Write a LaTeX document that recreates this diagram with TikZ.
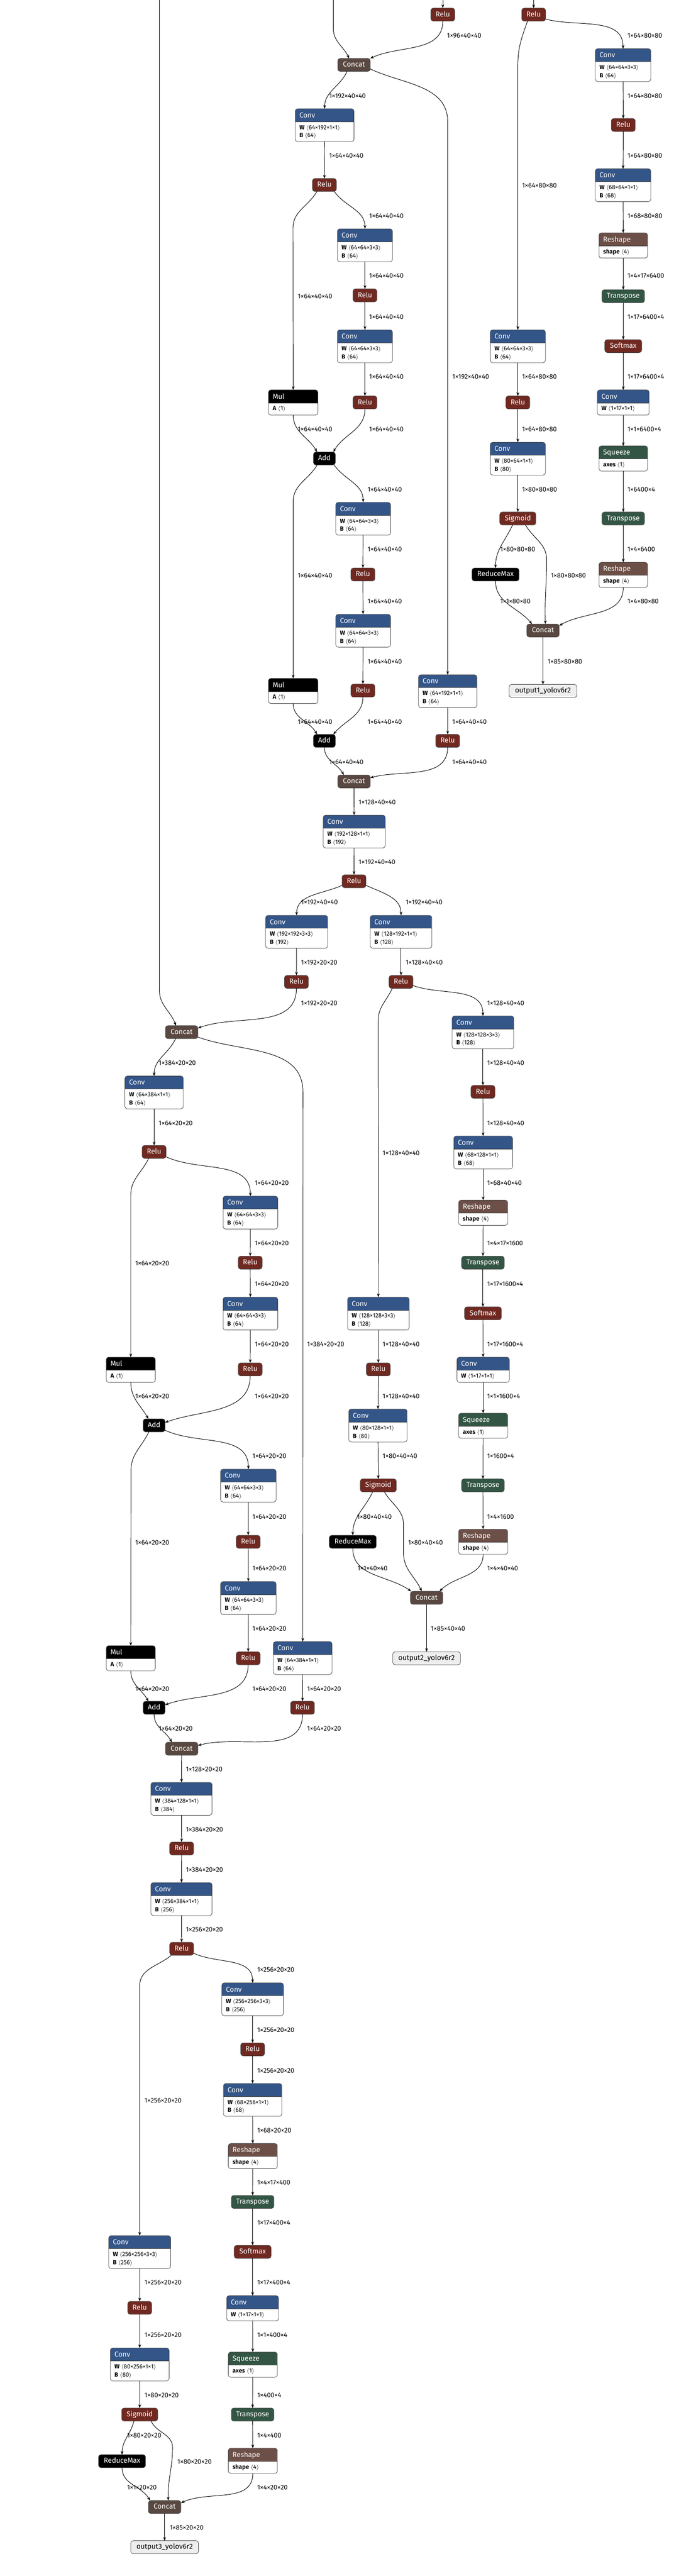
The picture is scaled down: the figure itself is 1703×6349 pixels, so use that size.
\documentclass[tikz,border=0pt]{standalone}
\usepackage{fontspec}
\setmainfont{Fira Sans}
\usetikzlibrary{calc,arrows.meta}
\definecolor{convc}{RGB}{51,85,136}
\definecolor{actc}{RGB}{112,41,33}
\definecolor{catc}{RGB}{89,72,65}
\definecolor{shpc}{RGB}{108,79,71}
\definecolor{trc}{RGB}{51,85,68}
\definecolor{bordc}{RGB}{70,70,70}
\definecolor{outc}{RGB}{238,238,238}
\newcounter{labn}
\newcommand\lan{\ensuremath{\langle}}
\newcommand\ran{\ensuremath{\rangle}}
\tikzset{
 cn/.style={line width=0.6pt, draw=black, -{Stealth[length=4.5pt,width=3.4pt]}},
 lab/.style={anchor=west, inner sep=0pt, font=\fontsize{8.2}{9}\selectfont},
 op/.style={draw=bordc, line width=0.5pt, rounded corners=3pt, minimum height=16pt, inner sep=0pt, outer sep=0pt, text=white, font=\fontsize{8.8}{10}\selectfont, text height=6.4pt, text depth=1.6pt},
 relu/.style={op, fill=actc, minimum width=29.5pt},
 sigm/.style={op, fill=actc, minimum width=44.5pt},
 smax/.style={op, fill=actc, minimum width=45.5pt},
 cat/.style={op, fill=catc, minimum width=40pt},
 addop/.style={op, fill=black, minimum width=27pt},
 rmax/.style={op, fill=black, minimum width=58pt},
 trans/.style={op, fill=trc, minimum width=52.5pt},
 outn/.style={op, fill=outc, text=black, minimum width=83.5pt},
 abox/.style={inner sep=0pt, outer sep=0pt, fill=white},
 bord/.style={draw=bordc, line width=0.5pt, rounded corners=3pt},
 ttl/.style={anchor=base west, inner sep=0pt, text=white, font=\fontsize{8.8}{10}\selectfont},
 bdy/.style={anchor=base west, inner sep=0pt, font=\fontsize{7.4}{9}\selectfont},
}
\newcommand\lb[3]{\stepcounter{labn}\node[lab] (lab\arabic{labn}) at (#1,-#2) {#3};}
\newcommand\abody[6]{%
 \node[abox, minimum width={(#4-#2)*0.5pt}, minimum height={(#5-#3)*0.5pt}] (#1) at ({(#2+#4)/2},{-(#3+#5)/2}) {};
 \begin{scope}
  \clip[rounded corners=3pt] (#1.north west) rectangle (#1.south east);
  \fill[#6] (#1.north west) rectangle ([yshift=-16pt]#1.north east);
 \end{scope}
 \draw[bord] (#1.north west) rectangle (#1.south east);
 \draw[draw=bordc, line width=0.5pt] ([yshift=-16pt]#1.north west) -- ([yshift=-16pt]#1.north east);
}
\newcommand\convII[6]{%
 \abody{#1}{#2}{#3}{#4}{#3+81}{convc}
 \node[ttl] (#1t) at ($(#1.north west)+(10,-22)$) {Conv};
 \node[bdy] (#1a) at ($(#1.north west)+(10,-51)$) {\textbf{W}\ \lan#5\ran};
 \node[bdy] (#1b) at ($(#1.north west)+(10,-71)$) {\textbf{B}\ \lan#6\ran};
}
\newcommand\attI[8]{%
 \abody{#1}{#2}{#3}{#4}{#3+62}{#5}
 \node[ttl] (#1t) at ($(#1.north west)+(10,-22)$) {#6};
 \node[bdy] (#1a) at ($(#1.north west)+(10,-51)$) {\textbf{#7}\ \lan#8\ran};
}
\begin{document}
\begin{tikzpicture}[x=0.5pt,y=0.5pt]
\fill[white] (0,0) rectangle (1703,-6349);
\useasboundingbox (0,0) rectangle (1703,-6349);
% entry coordinates
\coordinate (tA) at (1092,0);
\coordinate (tB) at (1316,0);
\coordinate (tL) at (393,0);
\coordinate (tM) at (822,0);
% ---------- simple nodes
\node[relu] (reluA) at (1092,-36) {Relu};
\node[relu] (reluB) at (1316,-36) {Relu};
\node[cat] (concat1) at (873,-160) {Concat};
\node[relu] (relu1) at (800,-456) {Relu};
\node[relu] (relu2) at (900,-728) {Relu};
\node[relu] (relu3) at (900,-992) {Relu};
\node[addop] (add1) at (800,-1130) {Add};
\node[relu] (relu4) at (895,-1416) {Relu};
\node[relu] (relu5) at (895,-1702) {Relu};
\node[addop] (add2) at (800,-1826) {Add};
\node[relu] (relu6) at (1104,-1826) {Relu};
\node[cat] (concat2) at (873,-1926) {Concat};
\node[relu] (relu7) at (873,-2172) {Relu};
\node[relu] (relu8) at (731,-2420) {Relu};
\node[relu] (relu9) at (989,-2420) {Relu};
\node[cat] (concat4) at (448,-2544) {Concat};
\node[relu] (relu10) at (380,-2839) {Relu};
\node[relu] (relu11) at (617,-3112) {Relu};
\node[relu] (relu12) at (617,-3375) {Relu};
\node[addop] (add3) at (380,-3513) {Add};
\node[relu] (relu13) at (612,-3800) {Relu};
\node[relu] (relu14) at (612,-4087) {Relu};
\node[addop] (add4) at (380,-4209) {Add};
\node[relu] (relu15) at (746,-4209) {Relu};
\node[cat] (concat6) at (448,-4310) {Concat};
\node[relu] (relu16) at (448,-4556) {Relu};
\node[relu] (relu17) at (448,-4803) {Relu};
\node[relu] (relu18) at (623,-5051) {Relu};
\node[trans] (trans5) at (623,-5427) {Transpose};
\node[smax] (softmax3) at (623,-5550) {Softmax};
\node[trans] (trans6) at (623,-5951) {Transpose};
\node[relu] (relu19) at (344.5,-5688) {Relu};
\node[sigm] (sigmoid3) at (344.5,-5951) {Sigmoid};
\node[rmax] (reducemax3) at (301,-6066) {ReduceMax};
\node[cat] (concat7) at (406,-6179) {Concat};
\node[outn] (output3) at (406,-6278) {output3\_yolov6r2};
\node[relu] (relu20) at (1191,-2691) {Relu};
\node[trans] (trans3) at (1191,-3112) {Transpose};
\node[smax] (softmax2) at (1191,-3237) {Softmax};
\node[trans] (trans4) at (1191,-3661) {Transpose};
\node[relu] (relu21) at (933,-3375) {Relu};
\node[sigm] (sigmoid2) at (933,-3661) {Sigmoid};
\node[rmax] (reducemax2) at (870,-3800) {ReduceMax};
\node[cat] (concat5) at (1052,-3938) {Concat};
\node[outn] (output2) at (1052,-4087) {output2\_yolov6r2};
\node[relu] (reluR1) at (1537,-308) {Relu};
\node[trans] (trans1) at (1537,-730) {Transpose};
\node[smax] (softmax1) at (1537,-853) {Softmax};
\node[trans] (trans2) at (1537,-1278) {Transpose};
\node[relu] (reluM1) at (1277,-992) {Relu};
\node[sigm] (sigmoid1) at (1277,-1278) {Sigmoid};
\node[rmax] (reducemax1) at (1222,-1416) {ReduceMax};
\node[cat] (concat3) at (1339,-1554) {Concat};
\node[outn] (output1) at (1339,-1703) {output1\_yolov6r2};
% ---------- attribute nodes
\convII{conv1}{728}{268}{873}{64×192×1×1}{64}
\convII{conv2}{832}{564}{968}{64×64×3×3}{64}
\convII{conv3}{832}{813}{968}{64×64×3×3}{64}
\attI{mul1}{662}{961}{784}{black}{Mul}{A}{1}
\convII{conv4}{828}{1238}{963}{64×64×3×3}{64}
\convII{conv5}{828}{1514}{963}{64×64×3×3}{64}
\attI{mul2}{662}{1672}{784}{black}{Mul}{A}{1}
\convII{conv6}{1032}{1663}{1176}{64×192×1×1}{64}
\convII{conv7}{797}{2009}{950}{192×128×1×1}{192}
\convII{conv8}{655}{2256}{808}{192×192×3×3}{192}
\convII{conv9}{913}{2256}{1065}{128×192×1×1}{128}
\convII{conv10}{308}{2652}{452}{64×384×1×1}{64}
\convII{conv11}{550}{2948}{685}{64×64×3×3}{64}
\convII{conv12}{550}{3197}{685}{64×64×3×3}{64}
\attI{mul3}{262}{3345}{383}{black}{Mul}{A}{1}
\convII{conv13}{544}{3621}{681}{64×64×3×3}{64}
\convII{conv14}{544}{3898}{681}{64×64×3×3}{64}
\attI{mul4}{262}{4056}{383}{black}{Mul}{A}{1}
\convII{conv15}{674}{4046}{819}{64×384×1×1}{64}
\convII{conv16}{372}{4393}{523}{384×128×1×1}{384}
\convII{conv17}{372}{4640}{523}{256×384×1×1}{256}
\convII{conv18}{547}{4887}{699}{256×256×3×3}{256}
\convII{conv19}{551}{5135}{695}{68×256×1×1}{68}
\attI{reshape5}{563}{5283}{684}{shpc}{Reshape}{shape}{4}
\attI{conv20}{559}{5658}{687}{convc}{Conv}{W}{1×17×1×1}
\attI{squeeze3}{563}{5797}{684}{trc}{Squeeze}{axes}{1}
\attI{reshape6}{563}{6034}{684}{shpc}{Reshape}{shape}{4}
\convII{conv21}{268}{5510}{421}{256×256×3×3}{256}
\convII{conv22}{272}{5787}{417}{80×256×1×1}{80}
\convII{conv23}{1115}{2504}{1267}{128×128×3×3}{128}
\convII{conv24}{1119}{2800}{1264}{68×128×1×1}{68}
\attI{reshape3}{1131}{2958}{1252}{shpc}{Reshape}{shape}{4}
\attI{conv25}{1127}{3345}{1256}{convc}{Conv}{W}{1×17×1×1}
\attI{squeeze2}{1131}{3483}{1252}{trc}{Squeeze}{axes}{1}
\attI{reshape4}{1131}{3769}{1252}{shpc}{Reshape}{shape}{4}
\convII{conv26}{857}{3197}{1009}{128×128×3×3}{128}
\convII{conv27}{860}{3473}{1004}{80×128×1×1}{80}
\convII{convR1}{1468}{120}{1605}{64×64×3×3}{64}
\convII{convR2}{1468}{416}{1605}{68×64×1×1}{68}
\attI{reshape1}{1477}{574}{1597}{shpc}{Reshape}{shape}{4}
\attI{convR3}{1473}{961}{1601}{convc}{Conv}{W}{1×17×1×1}
\attI{squeeze1}{1477}{1099}{1597}{trc}{Squeeze}{axes}{1}
\attI{reshape2}{1477}{1386}{1597}{shpc}{Reshape}{shape}{4}
\convII{convM1}{1209}{813}{1345}{64×64×3×3}{64}
\convII{convM2}{1209}{1090}{1345}{80×64×1×1}{80}
% ---------- edges: top / 40x40 section
\draw[cn] (tA) -- (reluA);
\draw[cn] (tB) -- (reluB);
\draw[cn] (tM) -- ++(0,-70) to[out=-90,in=115] ($(concat1.north)+(-12,0)$);
\draw[cn] (reluA.south) to[out=-90,in=25] (concat1.north east);
\draw[cn] ($(concat1.south)+(-17,0)$) to[out=-115,in=90] (conv1.north);
\draw[cn] ($(concat1.east)+(0,-10)$) to[out=-25,in=90] ++(191,-130) -- (conv6.north);
\draw[cn] (conv1) -- (relu1);
\draw[cn] ($(relu1.south east)+(-5,0)$) to[out=-55,in=90] (conv2.north);
\draw[cn] ($(relu1.south west)+(11,0)$) to[out=-120,in=90] ++(-59,-90) -- (mul1.north);
\draw[cn] (conv2) -- (relu2);
\draw[cn] (relu2) -- (conv3);
\draw[cn] (conv3) -- (relu3);
\draw[cn] (mul1.south) to[out=-90,in=120] ($(add1.north)+(-18,0)$);
\draw[cn] (relu3.south) to[out=-90,in=60] ($(add1.north)+(22,0)$);
\draw[cn] ($(add1.south east)+(-3,0)$) to[out=-55,in=90] (conv4.north);
\draw[cn] ($(add1.south west)+(9,0)$) to[out=-120,in=90] ++(-59,-90) -- (mul2.north);
\draw[cn] (conv4) -- (relu4);
\draw[cn] (relu4) -- (conv5);
\draw[cn] (conv5) -- (relu5);
\draw[cn] (mul2.south) to[out=-90,in=120] ($(add2.north)+(-18,0)$);
\draw[cn] (relu5.south) to[out=-90,in=50] ($(add2.north)+(22,0)$);
\draw[cn] (add2.south) to[out=-90,in=120] ($(concat2.north)+(-25,0)$);
\draw[cn] (conv6) -- (relu6);
\draw[cn] (relu6.south) to[out=-90,in=15] ($(concat2.east)+(0,9)$);
\draw[cn] (concat2) -- (conv7);
\draw[cn] (conv7) -- (relu7);
\draw[cn] ($(relu7.west)+(0,-10)$) to[out=-155,in=90] (conv8.north);
\draw[cn] ($(relu7.east)+(0,-10)$) to[out=-25,in=90] (conv9.north);
\draw[cn] (conv8) -- (relu8);
\draw[cn] (conv9) -- (relu9);
\draw[cn] (relu8.south) to[out=-90,in=20] ($(concat4.east)+(0,10)$);
\draw[cn] ($(relu9.east)+(0,-9)$) to[out=-20,in=90] (conv23.north);
\draw[cn] ($(relu9.south west)+(8,0)$) to[out=-115,in=90] ++(-35,-80) -- (conv26.north);
% ---------- 20x20 section
\draw[cn] (tL) -- ++(0,-2440) to[out=-90,in=110] ($(concat4.north)+(-14,0)$);
\draw[cn] ($(concat4.south)+(-15,0)$) to[out=-115,in=90] (conv10.north);
\draw[cn] ($(concat4.east)+(0,-12)$) to[out=-20,in=90] ++(259,-135) -- (conv15.north);
\draw[cn] (conv10) -- (relu10);
\draw[cn] ($(relu10.east)+(0,-12)$) to[out=-25,in=90] (conv11.north);
\draw[cn] ($(relu10.south west)+(16,0)$) to[out=-115,in=90] ++(-44,-90) -- (mul3.north);
\draw[cn] (conv11) -- (relu11);
\draw[cn] (relu11) -- (conv12);
\draw[cn] (conv12) -- (relu12);
\draw[cn] (mul3.south) to[out=-90,in=120] ($(add3.north)+(-14,0)$);
\draw[cn] (relu12.south) to[out=-90,in=20] ($(add3.east)+(0,7)$);
\draw[cn] ($(add3.east)+(0,-12)$) to[out=-25,in=90] (conv13.north);
\draw[cn] ($(add3.south west)+(14,0)$) to[out=-115,in=90] ++(-44,-95) -- (mul4.north);
\draw[cn] (conv13) -- (relu13);
\draw[cn] (relu13) -- (conv14);
\draw[cn] (conv14) -- (relu14);
\draw[cn] (mul4.south) to[out=-90,in=120] ($(add4.north)+(-14,0)$);
\draw[cn] (relu14.south) to[out=-90,in=20] ($(add4.east)+(0,7)$);
\draw[cn] (conv15) -- (relu15);
\draw[cn] (add4.south) to[out=-90,in=120] ($(concat6.north)+(-24,0)$);
\draw[cn] (relu15.south) to[out=-90,in=15] ($(concat6.east)+(0,8)$);
\draw[cn] (concat6) -- (conv16);
\draw[cn] (conv16) -- (relu16);
\draw[cn] (relu16) -- (conv17);
\draw[cn] (conv17) -- (relu17);
\draw[cn] ($(relu17.east)+(0,-11)$) to[out=-25,in=90] (conv18.north);
\draw[cn] ($(relu17.south west)+(4,0)$) to[out=-140,in=90] ++(-78,-75) -- (conv21.north);
\draw[cn] (conv18) -- (relu18);
\draw[cn] (relu18) -- (conv19);
\draw[cn] (conv19) -- (reshape5);
\draw[cn] (reshape5) -- (trans5);
\draw[cn] (trans5) -- (softmax3);
\draw[cn] (softmax3) -- (conv20);
\draw[cn] (conv20) -- (squeeze3);
\draw[cn] (squeeze3) -- (trans6);
\draw[cn] (trans6) -- (reshape6);
\draw[cn] (conv21) -- (relu19);
\draw[cn] (relu19) -- (conv22);
\draw[cn] (conv22) -- (sigmoid3);
\draw[cn] ($(sigmoid3.south)+(-14,0)$) to[out=-105,in=90] (reducemax3.north);
\draw[cn] ($(sigmoid3.south)+(28,0)$) to[out=-65,in=90] ++(53,-65) to[out=-90,in=92] ($(concat7.north)+(9,0)$);
\draw[cn] (reducemax3.south) to[out=-90,in=120] ($(concat7.north west)+(4,0)$);
\draw[cn] (reshape6.south) to[out=-90,in=25] ($(concat7.east)+(0,10)$);
\draw[cn] (concat7) -- (output3);
% ---------- middle head
\draw[cn] (conv23) -- (relu20);
\draw[cn] (relu20) -- (conv24);
\draw[cn] (conv24) -- (reshape3);
\draw[cn] (reshape3) -- (trans3);
\draw[cn] (trans3) -- (softmax2);
\draw[cn] (softmax2) -- (conv25);
\draw[cn] (conv25) -- (squeeze2);
\draw[cn] (squeeze2) -- (trans4);
\draw[cn] (trans4) -- (reshape4);
\draw[cn] (conv26) -- (relu21);
\draw[cn] (relu21) -- (conv27);
\draw[cn] (conv27) -- (sigmoid2);
\draw[cn] ($(sigmoid2.south)+(-14,0)$) to[out=-115,in=90] (reducemax2.north);
\draw[cn] ($(sigmoid2.south)+(15,0)$) to[out=-60,in=90] ++(47,-80) -- ++(0,-70) to[out=-90,in=115] ($(concat5.north)+(-12,0)$);
\draw[cn] (reducemax2.south) to[out=-90,in=145] ($(concat5.north west)+(2,0)$);
\draw[cn] (reshape4.south) to[out=-90,in=45] ($(concat5.north east)+(-8,0)$);
\draw[cn] (concat5) -- (output2);
% ---------- right head
\draw[cn] ($(reluB.east)+(0,-11)$) to[out=-15,in=90] (convR1.north);
\draw[cn] ($(reluB.south)+(-15,0)$) to[out=-110,in=90] ++(-24,-110) -- (convM1.north);
\draw[cn] (convR1) -- (reluR1);
\draw[cn] (reluR1) -- (convR2);
\draw[cn] (convR2) -- (reshape1);
\draw[cn] (reshape1) -- (trans1);
\draw[cn] (trans1) -- (softmax1);
\draw[cn] (softmax1) -- (convR3);
\draw[cn] (convR3) -- (squeeze1);
\draw[cn] (squeeze1) -- (trans2);
\draw[cn] (trans2) -- (reshape2);
\draw[cn] (convM1) -- (reluM1);
\draw[cn] (reluM1) -- (convM2);
\draw[cn] (convM2) -- (sigmoid1);
\draw[cn] ($(sigmoid1.south)+(-13,0)$) to[out=-115,in=90] (reducemax1.north);
\draw[cn] ($(sigmoid1.south)+(19,0)$) to[out=-60,in=90] ++(52,-85) to[out=-90,in=92] ($(concat3.north)+(6,0)$);
\draw[cn] (reducemax1.south) to[out=-90,in=130] ($(concat3.north)+(-27,0)$);
\draw[cn] (reshape2.south) to[out=-90,in=30] ($(concat3.north east)+(0,-4)$);
\draw[cn] (concat3) -- (output1);
% ---------- labels
\lb{1102}{88}{1×96×40×40}
\lb{1547}{88}{1×64×80×80}
\lb{811}{236}{1×192×40×40}
\lb{1547}{236}{1×64×80×80}
\lb{811}{384}{1×64×40×40}
\lb{1547}{384}{1×64×80×80}
\lb{910}{532}{1×64×40×40}
\lb{1547}{532}{1×68×80×80}
\lb{1287}{458}{1×64×80×80}
\lb{910}{680}{1×64×40×40}
\lb{1547}{680}{1×4×17×6400}
\lb{734}{731}{1×64×40×40}
\lb{910}{781}{1×64×40×40}
\lb{1547}{781}{1×17×6400×4}
\lb{910}{929}{1×64×40×40}
\lb{1115}{929}{1×192×40×40}
\lb{1287}{929}{1×64×80×80}
\lb{1547}{929}{1×17×6400×4}
\lb{734}{1058}{1×64×40×40}
\lb{910}{1058}{1×64×40×40}
\lb{1287}{1058}{1×64×80×80}
\lb{1547}{1058}{1×1×6400×4}
\lb{906}{1206}{1×64×40×40}
\lb{1287}{1206}{1×80×80×80}
\lb{1547}{1206}{1×6400×4}
\lb{906}{1354}{1×64×40×40}
\lb{1233}{1354}{1×80×80×80}
\lb{1547}{1354}{1×4×6400}
\lb{734}{1418}{1×64×40×40}
\lb{1358}{1418}{1×80×80×80}
\lb{906}{1482}{1×64×40×40}
\lb{1233}{1482}{1×1×80×80}
\lb{1547}{1482}{1×4×80×80}
\lb{906}{1631}{1×64×40×40}
\lb{1350}{1631}{1×85×80×80}
\lb{734}{1779}{1×64×40×40}
\lb{906}{1779}{1×64×40×40}
\lb{1115}{1779}{1×64×40×40}
\lb{811}{1878}{1×64×40×40}
\lb{1115}{1878}{1×64×40×40}
\lb{884}{1977}{1×128×40×40}
\lb{884}{2125}{1×192×40×40}
\lb{742}{2224}{1×192×40×40}
\lb{1000}{2224}{1×192×40×40}
\lb{742}{2372}{1×192×20×20}
\lb{1000}{2372}{1×128×40×40}
\lb{742}{2472}{1×192×20×20}
\lb{1201}{2472}{1×128×40×40}
\lb{391}{2620}{1×384×20×20}
\lb{1201}{2620}{1×128×40×40}
\lb{391}{2768}{1×64×20×20}
\lb{1201}{2768}{1×128×40×40}
\lb{943}{2842}{1×128×40×40}
\lb{628}{2916}{1×64×20×20}
\lb{1201}{2916}{1×68×40×40}
\lb{628}{3064}{1×64×20×20}
\lb{1201}{3064}{1×4×17×1600}
\lb{333}{3114}{1×64×20×20}
\lb{628}{3165}{1×64×20×20}
\lb{1201}{3165}{1×17×1600×4}
\lb{628}{3313}{1×64×20×20}
\lb{757}{3313}{1×384×20×20}
\lb{943}{3313}{1×128×40×40}
\lb{1201}{3313}{1×17×1600×4}
\lb{333}{3441}{1×64×20×20}
\lb{628}{3441}{1×64×20×20}
\lb{943}{3441}{1×128×40×40}
\lb{1201}{3441}{1×1×1600×4}
\lb{622}{3589}{1×64×20×20}
\lb{943}{3589}{1×80×40×40}
\lb{1201}{3589}{1×1600×4}
\lb{622}{3738}{1×64×20×20}
\lb{880}{3738}{1×80×40×40}
\lb{1201}{3738}{1×4×1600}
\lb{333}{3802}{1×64×20×20}
\lb{1006}{3802}{1×80×40×40}
\lb{622}{3866}{1×64×20×20}
\lb{881}{3866}{1×1×40×40}
\lb{1201}{3866}{1×4×40×40}
\lb{622}{4014}{1×64×20×20}
\lb{1062}{4014}{1×85×40×40}
\lb{333}{4162}{1×64×20×20}
\lb{622}{4162}{1×64×20×20}
\lb{757}{4162}{1×64×20×20}
\lb{391}{4261}{1×64×20×20}
\lb{757}{4261}{1×64×20×20}
\lb{458}{4361}{1×128×20×20}
\lb{458}{4509}{1×384×20×20}
\lb{458}{4608}{1×384×20×20}
\lb{458}{4756}{1×256×20×20}
\lb{634}{4855}{1×256×20×20}
\lb{634}{5003}{1×256×20×20}
\lb{634}{5103}{1×256×20×20}
\lb{356}{5177}{1×256×20×20}
\lb{634}{5251}{1×68×20×20}
\lb{634}{5379}{1×4×17×400}
\lb{634}{5478}{1×17×400×4}
\lb{356}{5626}{1×256×20×20}
\lb{634}{5626}{1×17×400×4}
\lb{356}{5755}{1×256×20×20}
\lb{634}{5755}{1×1×400×4}
\lb{356}{5903}{1×80×20×20}
\lb{634}{5903}{1×400×4}
\lb{313}{6002}{1×80×20×20}
\lb{634}{6002}{1×4×400}
\lb{437}{6067}{1×80×20×20}
\lb{313}{6131}{1×1×20×20}
\lb{634}{6131}{1×4×20×20}
\lb{418}{6230}{1×85×20×20}
\end{tikzpicture}
\end{document}
